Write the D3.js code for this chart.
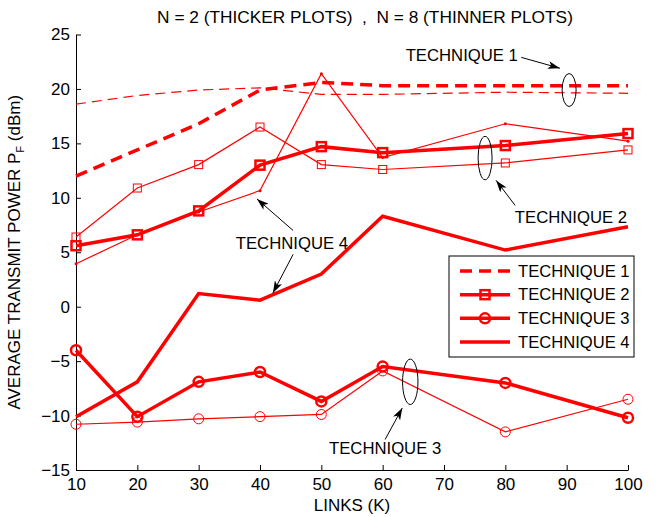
<!DOCTYPE html>
<html>
<head>
<meta charset="utf-8">
<script src="https://cdn.jsdelivr.net/npm/d3@7"></script>
<style>
  body { margin: 0; background: #fff; }
  text { font-family: "Liberation Sans", Arial, Helvetica, sans-serif; fill: #000; }
</style>
</head>
<body>
<div id="chart"></div>
<script>
//Datos
const links = [10, 20, 30, 40, 50, 60, 80, 100];
const t1Thick = [12.0, 14.4, 16.8, 19.9, 20.6, 20.3, 20.3, 20.3];
const t1Thin = [18.6, 19.4, 19.9, 20.1, 19.5, 19.5, 19.7, 19.6];
const t2Thick = [5.6, 6.6, 8.8, 13.0, 14.7, 14.15, 14.8, 15.9];
const t2Thin = [6.4, 10.9, 13.05, 16.5, 13.05, 12.6, 13.2, 14.4];
const t3Thick = [-4.0, -10.1, -6.9, -6.0, -8.7, -5.5, -7.0, -10.2];
const t3Thin = [-10.8, -10.6, -10.3, -10.1, -9.9, -5.9, -11.5, -8.5];
const t4Thick = [-10.1, -6.9, 1.2, 0.6, 3.0, 8.3, 5.2, 7.35];
const t4Thin = [3.95, 6.6, 8.7, 10.66, 21.4, 13.7, 16.8, 15.2];

const xTicks = [10, 20, 30, 40, 50, 60, 70, 80, 90, 100];
const yTicks = [-15, -10, -5, 0, 5, 10, 15, 20, 25];
const legendLabels = ['TECHNIQUE 1', 'TECHNIQUE 2', 'TECHNIQUE 3', 'TECHNIQUE 4'];

const RED = '#ff0000';
const FS = 17;

let margin = {top: 34.5, right: 30, bottom: 47, left: 76},
    width = 658 - margin.left - margin.right,
    height = 517 - margin.top - margin.bottom;

let svg = d3.select('#chart')
    .append('svg')
      .attr('width', 658)
      .attr('height', 517);

let defs = svg.append('defs');
defs.append('marker')
    .attr('id', 'arrow')
    .attr('viewBox', '0 0 12 8')
    .attr('refX', 12)
    .attr('refY', 4)
    .attr('markerWidth', 12)
    .attr('markerHeight', 8)
    .attr('markerUnits', 'userSpaceOnUse')
    .attr('orient', 'auto')
  .append('path')
    .attr('d', 'M0,0 L12,4 L0,8 L3,4 Z')
    .attr('fill', '#000');

let g = svg.append('g')
    .attr('transform', 'translate(' + margin.left + ',' + margin.top + ')');

let x = d3.scaleLinear().domain([10, 100]).range([0, width]);
let y = d3.scaleLinear().domain([-15, 25]).range([height, 0]);

//Ejes
let xAxis = g.append('g')
    .attr('transform', 'translate(0,' + height + ')')
    .call(d3.axisBottom(x).tickValues(xTicks).tickSizeInner(-5).tickSizeOuter(0).tickPadding(8));
let yAxis = g.append('g')
    .call(d3.axisLeft(y).tickValues(yTicks).tickSizeInner(-5).tickSizeOuter(0).tickPadding(6)
        .tickFormat(d => d < 0 ? '\u2212' + Math.abs(d) : d));

[xAxis, yAxis].forEach(function(a) {
    a.selectAll('.domain').attr('stroke', '#000').attr('stroke-width', 1);
    a.selectAll('.tick line').attr('stroke', '#000');
    a.selectAll('.tick text').attr('font-size', FS).attr('font-family', '"Liberation Sans", Arial, sans-serif');
});

//Series
let line = d3.line().x((d, i) => x(links[i])).y(d => y(d));

let series = [
    {vals: t1Thin, w: 1.2, dash: '10,6', mark: null},
    {vals: t2Thin, w: 1.2, dash: null, mark: 'square'},
    {vals: t3Thin, w: 1.2, dash: null, mark: 'circle'},
    {vals: t4Thin, w: 1.2, dash: null, mark: 'dot'},
    {vals: t1Thick, w: 3.5, dash: '12,7', mark: null},
    {vals: t2Thick, w: 3.5, dash: null, mark: 'square'},
    {vals: t3Thick, w: 3.5, dash: null, mark: 'circle'},
    {vals: t4Thick, w: 3.5, dash: null, mark: null}
];

series.forEach(function(s) {
    g.append('path')
        .datum(s.vals)
        .attr('d', line)
        .attr('fill', 'none')
        .attr('stroke', RED)
        .attr('stroke-width', s.w)
        .attr('stroke-dasharray', s.dash)
        .attr('stroke-linejoin', 'miter');

    let thick = s.w > 2;
    if (s.mark === 'square') {
        let sz = thick ? 9 : 8;
        g.selectAll(null).data(s.vals).enter().append('rect')
            .attr('x', (d, i) => x(links[i]) - sz / 2)
            .attr('y', d => y(d) - sz / 2)
            .attr('width', sz).attr('height', sz)
            .attr('fill', 'none').attr('stroke', RED)
            .attr('stroke-width', thick ? 2.5 : 1);
    } else if (s.mark === 'circle') {
        g.selectAll(null).data(s.vals).enter().append('circle')
            .attr('cx', (d, i) => x(links[i]))
            .attr('cy', d => y(d))
            .attr('r', 5)
            .attr('fill', 'none').attr('stroke', RED)
            .attr('stroke-width', thick ? 2.5 : 1);
    } else if (s.mark === 'dot') {
        g.selectAll(null).data(s.vals).enter().append('circle')
            .attr('cx', (d, i) => x(links[i]))
            .attr('cy', d => y(d))
            .attr('r', 1.5)
            .attr('fill', RED);
    }
});

//Anotaciones
function ellipse(cx, cy, rx, ry) {
    g.append('ellipse')
        .attr('cx', x(cx)).attr('cy', y(cy))
        .attr('rx', rx).attr('ry', ry)
        .attr('fill', 'none').attr('stroke', '#000').attr('stroke-width', 1);
}
function arrow(x1, y1, x2, y2) {
    g.append('line')
        .attr('x1', x(x1)).attr('y1', y(y1))
        .attr('x2', x(x2)).attr('y2', y(y2))
        .attr('stroke', '#000').attr('stroke-width', 1)
        .attr('marker-end', 'url(#arrow)');
}
function label(cx, cy, txt) {
    g.append('text')
        .attr('x', x(cx)).attr('y', y(cy))
        .attr('text-anchor', 'middle')
        .attr('dy', '0.35em')
        .attr('font-size', 16.7)
        .text(txt);
}

ellipse(90.4, 19.9, 7, 16.5);
label(72.9, 23.1, 'TECHNIQUE 1');
arrow(82.6, 22.9, 88.9, 21.9);

ellipse(76.7, 13.65, 7, 21.7);
label(90.7, 8.2, 'TECHNIQUE 2');
arrow(81.6, 9.3, 78.5, 11.6);

label(45.2, 5.85, 'TECHNIQUE 4');
arrow(45.4, 7.0, 39.5, 9.9);
arrow(45.4, 4.8, 42.1, 1.26);

ellipse(64.5, -6.9, 7.7, 22.7);
label(60.4, -13.0, 'TECHNIQUE 3');
arrow(60.4, -12.2, 63.2, -9.3);

//Leyenda
let legend = svg.append('g').attr('transform', 'translate(449,256)');
legend.append('rect')
    .attr('width', 185).attr('height', 101)
    .attr('fill', '#fff').attr('stroke', '#000').attr('stroke-width', 1);

let legendStyle = [
    {w: 3.5, dash: '12,7', mark: null},
    {w: 3.5, dash: null, mark: 'square'},
    {w: 3.5, dash: null, mark: 'circle'},
    {w: 3.5, dash: null, mark: null}
];
let ly = d3.scalePoint().domain(legendLabels).range([15, 86]);

legendLabels.forEach(function(lab, i) {
    let st = legendStyle[i];
    let row = legend.append('g').attr('transform', 'translate(0,' + ly(lab) + ')');
    row.append('line')
        .attr('x1', 11).attr('x2', 61)
        .attr('stroke', RED).attr('stroke-width', st.w)
        .attr('stroke-dasharray', st.dash);
    if (st.mark === 'square') {
        row.append('rect').attr('x', -4.5 + 36).attr('y', -4.5).attr('width', 9).attr('height', 9)
            .attr('fill', 'none').attr('stroke', RED).attr('stroke-width', 2.5);
    } else if (st.mark === 'circle') {
        row.append('circle').attr('cx', 36).attr('r', 5)
            .attr('fill', 'none').attr('stroke', RED).attr('stroke-width', 2.5);
    }
    row.append('text')
        .attr('x', 69).attr('dy', '0.35em')
        .attr('font-size', 16.6)
        .text(lab);
});

//Titulos
svg.append('text')
    .attr('x', 365).attr('y', 23)
    .attr('text-anchor', 'middle')
    .attr('font-size', 17.3)
    .attr('xml:space', 'preserve')
    .text('N = 2 (THICKER PLOTS)  ,  N = 8 (THINNER PLOTS)');

svg.append('text')
    .attr('x', margin.left + width / 2).attr('y', 511)
    .attr('text-anchor', 'middle')
    .attr('font-size', FS)
    .text('LINKS (K)');

let yl = svg.append('text')
    .attr('transform', 'translate(20,' + (margin.top + height / 2) + ') rotate(-90)')
    .attr('text-anchor', 'middle')
    .attr('font-size', FS);
yl.append('tspan').text('AVERAGE TRANSMIT POWER P');
yl.append('tspan').attr('font-size', 11).attr('dy', 4).text('F');
yl.append('tspan').attr('dy', -4).text(' (dBm)');
</script>
</body>
</html>
